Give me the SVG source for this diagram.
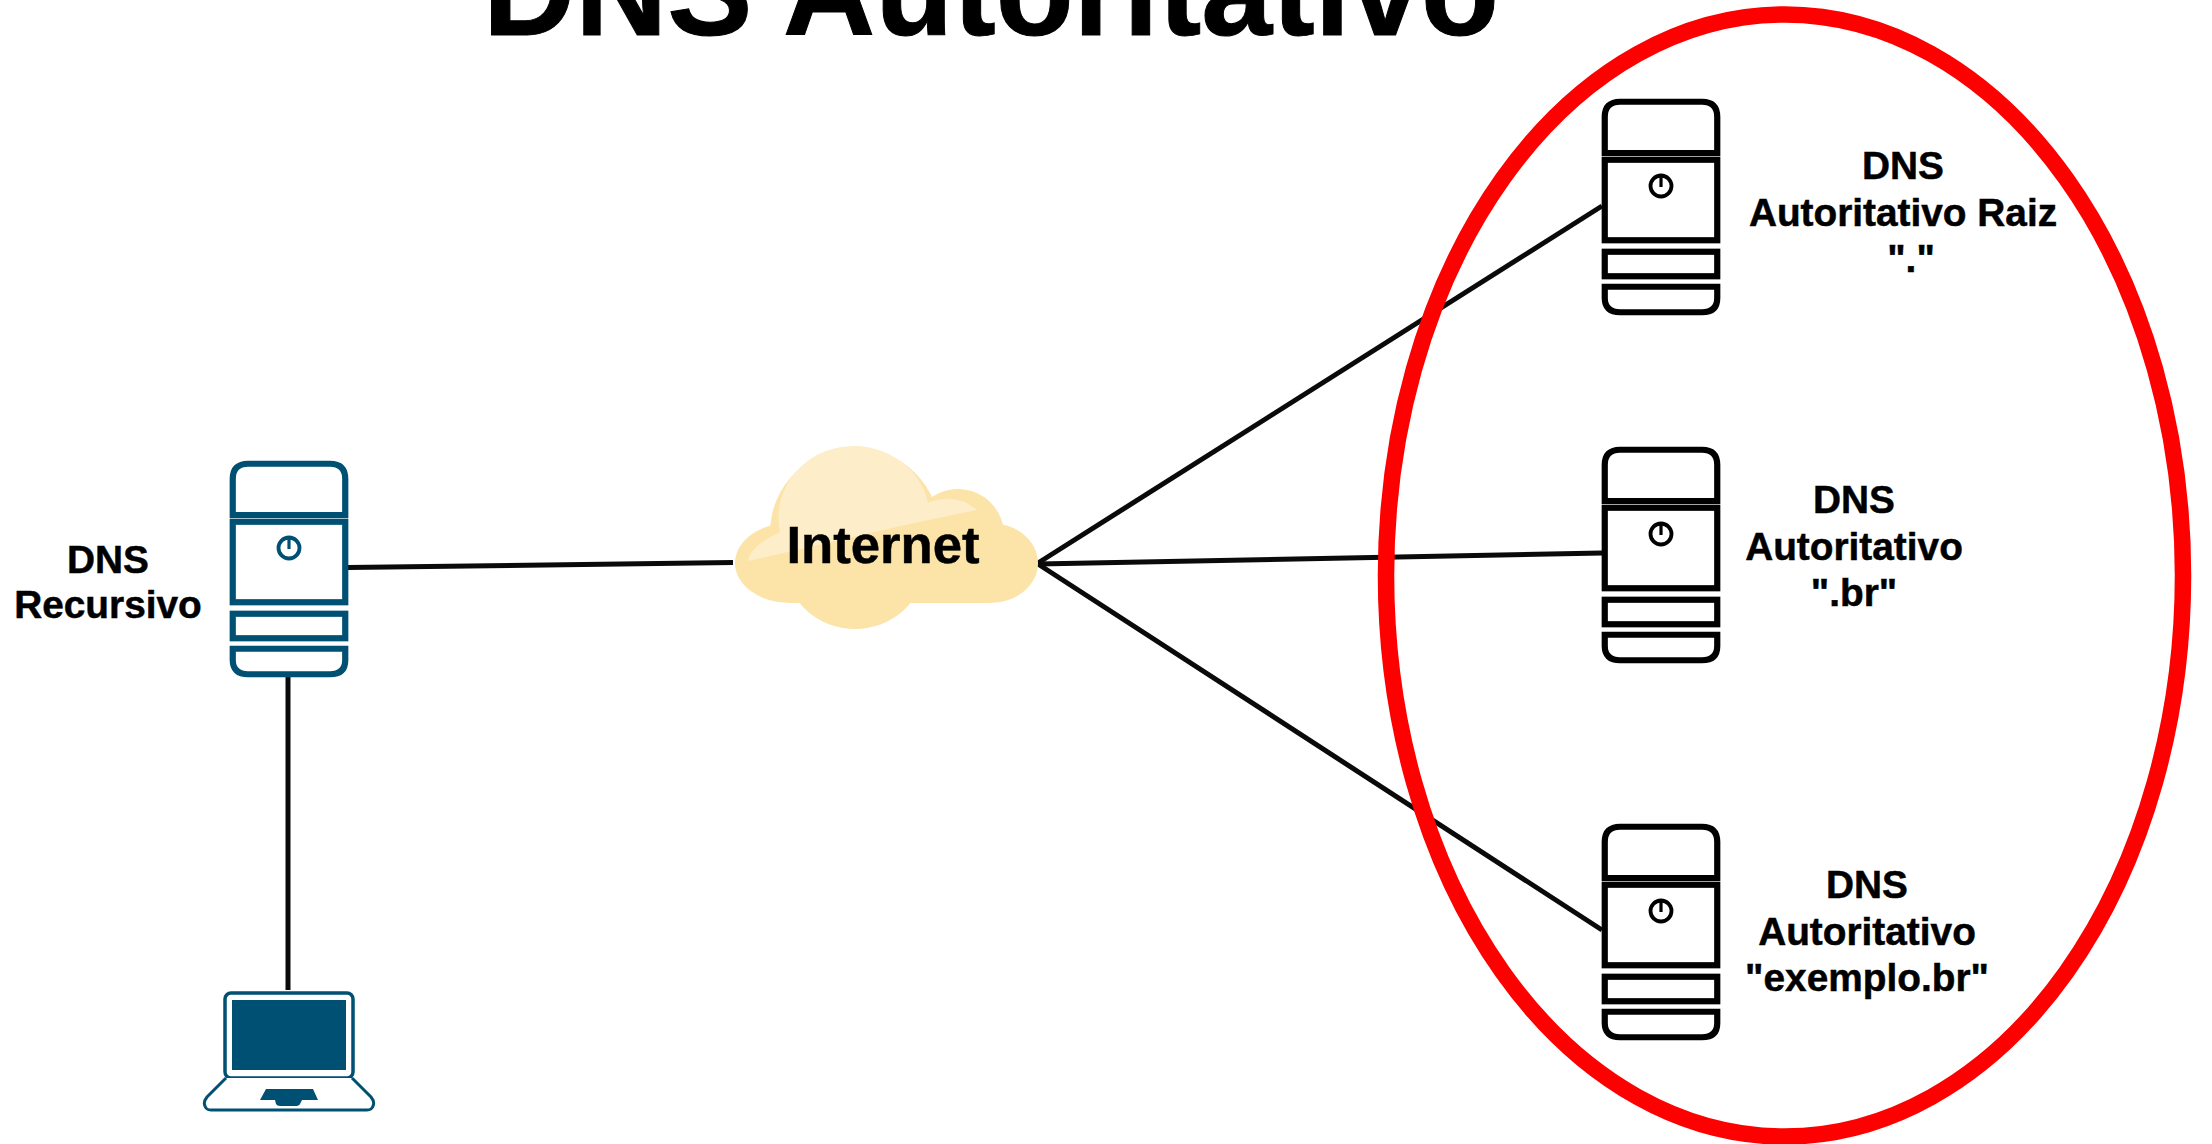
<svg xmlns="http://www.w3.org/2000/svg" width="2212" height="1144" viewBox="0 0 2212 1144">
<style>
text{font-family:"Liberation Sans",Arial,sans-serif;font-weight:700;fill:#000;stroke:#000;stroke-width:.5;text-anchor:middle}
.l{font-size:38.800px}
.c{fill:none;stroke:#0a0a0a;stroke-width:5}
.s{fill:#fff;stroke-width:6.200}
</style>
<defs>
<g id="srv">
<path class="s" d="M2.750 54V18Q2.750 2.750 18 2.750H100Q115.250 2.750 115.250 18V54Z"/>
<rect class="s" x="2.750" y="60.750" width="112.500" height="80.500"/>
<rect class="s" x="2.750" y="152.750" width="112.500" height="24.500"/>
<path class="s" d="M2.750 187.750H115.250V199Q115.250 213.250 100 213.250H18Q2.750 213.250 2.750 199Z"/>
<circle cx="59" cy="87" r="10.500" fill="none" stroke-width="3.800"/>
<path d="M59 76V88" fill="none" stroke-width="3.200"/>
</g>
</defs>
<rect width="2212" height="1144" fill="#fff"/>
<text x="991" y="35" font-size="127.600" style="stroke-width:1">DNS Autoritativo</text>
<g id="connectors">
<path class="c" d="M348 567.500L733 562.500"/>
<path class="c" d="M288 677V990"/>
<path class="c" d="M1038 563L1602 206"/>
<path class="c" d="M1038 564L1602 553"/>
<path class="c" d="M1038 564L1602 930"/>
</g>
<g id="internet">
<g fill="#fce3a8">
<circle cx="855" cy="533" r="85"/>
<circle cx="958" cy="535" r="46"/>
<ellipse cx="990" cy="563" rx="48" ry="40"/>
<ellipse cx="790" cy="563" rx="55" ry="40"/>
<ellipse cx="855" cy="567" rx="68" ry="62"/>
<rect x="790" y="523" width="200" height="80"/>
</g>
<path fill="#fdeec9" d="M748 561Q750 546 780 532A75 71 0 0 1 928 503Q955 492 977 510C900 525 820 545 748 561Z"/>
<text x="883" y="563" font-size="52.700">Internet</text>
</g>
<g id="dns-recursivo">
<use href="#srv" x="230" y="461" stroke="#005073"/>
<text class="l" x="108" y="573">DNS</text>
<text class="l" x="108" y="618">Recursivo</text>
</g>
<g id="laptop">
<rect x="225" y="993" width="128" height="85" rx="6" fill="#fff" stroke="#005073" stroke-width="3.500"/>
<rect x="232" y="1000" width="114" height="70" fill="#005073"/>
<path d="M226 1078L207 1097Q203 1102 205 1106Q206 1110 211 1110H367Q372 1110 373 1106Q375 1102 371 1097L352 1078" fill="#fff" stroke="#005073" stroke-width="3"/>
<path d="M266 1089H313L318 1100H302L300 1104Q299 1106 295 1106H280Q277 1106 276 1104L275 1100H260Z" fill="#005073"/>
</g>
<g id="dns-raiz">
<use href="#srv" x="1602" y="99" stroke="#000"/>
<text class="l" x="1903" y="179">DNS</text>
<text class="l" x="1903" y="226">Autoritativo Raiz</text>
<text class="l" x="1911" y="272">"."</text>
</g>
<g id="dns-br">
<use href="#srv" x="1602" y="447" stroke="#000"/>
<text class="l" x="1854" y="513">DNS</text>
<text class="l" x="1854" y="560">Autoritativo</text>
<text class="l" x="1854" y="606">".br"</text>
</g>
<g id="dns-exemplo">
<use href="#srv" x="1602" y="824" stroke="#000"/>
<text class="l" x="1867" y="898">DNS</text>
<text class="l" x="1867" y="945">Autoritativo</text>
<text class="l" x="1867" y="991">"exemplo.br"</text>
</g>
<ellipse id="highlight" cx="1784.500" cy="575.500" rx="398.500" ry="561" fill="none" stroke="#fe0000" stroke-width="16.500"/>
</svg>
